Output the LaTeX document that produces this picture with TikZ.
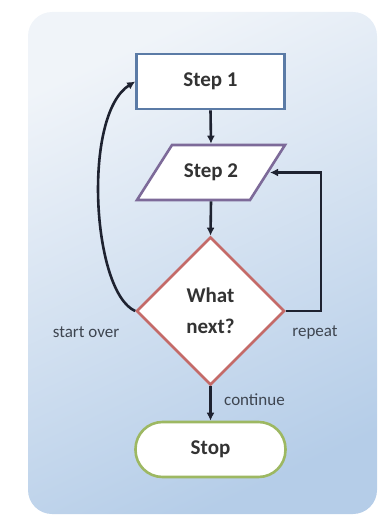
\documentclass[tikz,border=0pt]{standalone}
\usepackage{fontspec}
\setmainfont{Carlito}
\usetikzlibrary{shapes.geometric,arrows.meta}
\definecolor{bgtop}{HTML}{F0F4F9}
\definecolor{bgbot}{HTML}{B5CDE8}
\definecolor{edgeblue}{HTML}{5B7BA6}
\definecolor{edgepurple}{HTML}{7D6A99}
\definecolor{edgered}{HTML}{C46A68}
\definecolor{edgegreen}{HTML}{9DB862}
\definecolor{linedark}{HTML}{1E2230}
\definecolor{txtdark}{HTML}{333333}
\definecolor{txtlabel}{HTML}{3E4550}
\tikzset{
  boxline/.style={line width=2.6pt, fill=white},
  box/.style={draw, boxline, text=txtdark, font=\fontsize{21}{31}\selectfont\bfseries, inner sep=0pt, align=center},
  conn/.style={draw=linedark, line width=2.6pt, -{Latex[length=8pt,width=8pt]}},
  lbl/.style={text=txtlabel, font=\fontsize{17}{19}\selectfont, inner sep=0pt}
}
\begin{document}
\begin{tikzpicture}[x=1pt,y=-1pt]
\useasboundingbox (0,0) rectangle (380,516);
\shade[rounded corners=24pt, top color=bgtop, bottom color=bgbot, shading angle=25]
  (28,12) rectangle (377,514);
\node[box, draw=edgeblue, rectangle, minimum width=148pt, minimum height=55pt] (s1) at (210.5,81.5) {Step 1};
% parallelogram outline of Step 2
\draw[boxline, draw=edgepurple, line join=miter] (137,200) -- (172,145) -- (285,145) -- (250,200) -- cycle;
\node[box, draw=none, fill=none, rectangle, minimum width=80pt, minimum height=55pt] (s2) at (211,172.5) {Step 2};
\coordinate (s2e) at (270,172.5);
\node[box, draw=edgered, diamond, minimum width=148pt, minimum height=148pt] (d) at (210.5,311) {What\\next?};
\node[box, draw=edgegreen, rectangle, rounded corners=27pt, minimum width=150pt, minimum height=55pt] (st) at (210.5,449.5) {Stop};
\draw[conn] (s1.south) -- (s2.north);
\draw[conn] (s2.south) -- (d.north);
\draw[conn] (d.south) -- (st.north);
\draw[conn] (d.west) .. controls (92,292) and (82,115) .. (s1.west);
\draw[conn] (d.east) -- ++(35,0) |- (s2e);
\node[lbl] (l1) at (86,332) {start over};
\node[lbl] (l2) at (315,332) {repeat};
\node[lbl, anchor=west] (l3) at (224,400) {continue};
\end{tikzpicture}
\end{document}
